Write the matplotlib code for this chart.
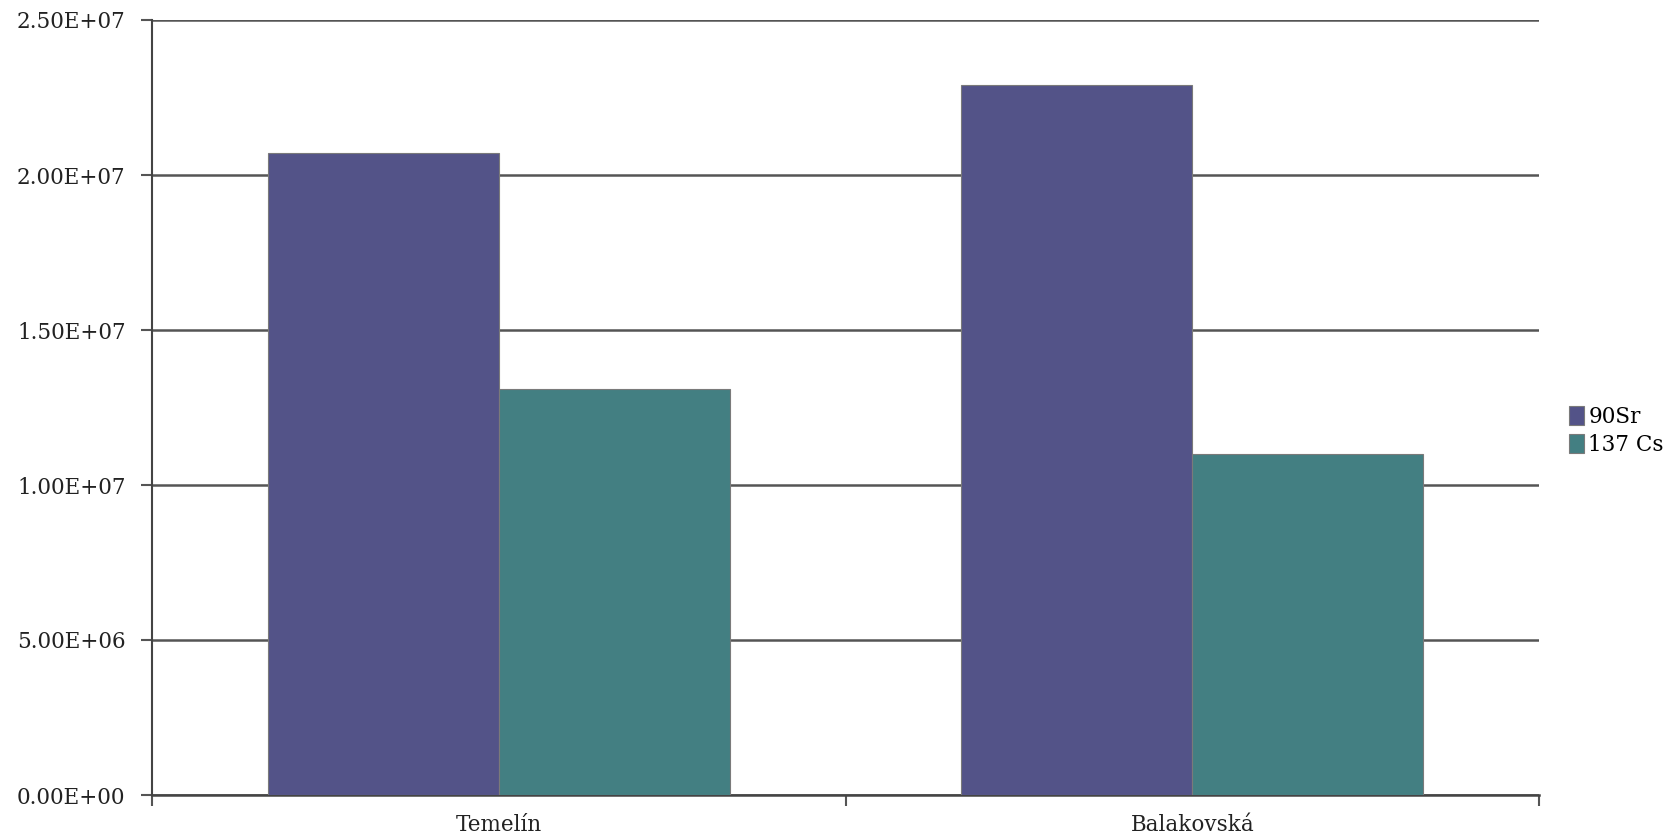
import matplotlib
matplotlib.use("Agg")
import matplotlib.pyplot as plt
import numpy as np

categories = ["Temelín", "Balakovská"]
series_names = ["90Sr", "137 Cs"]
sr90 = [2.07e7, 2.29e7]
cs137 = [1.31e7, 1.10e7]
yticks = [0, 5e6, 1e7, 1.5e7, 2e7, 2.5e7]
ytick_labels = ["0.00E+00", "5.00E+06", "1.00E+07", "1.50E+07", "2.00E+07", "2.50E+07"]

colors = ["#535388", "#437F82"]
FONT = ["DejaVu Serif"]
FS = 15.5

fig = plt.figure(figsize=(16.67, 8.36), dpi=100)
ax = fig.add_axes([152/1667, 1-795/836, (1539-152)/1667, (795-20)/836])

x = np.arange(len(categories))
w = 1/3
ax.bar(x - w/2, sr90, width=w, color=colors[0], edgecolor="#7a7a7a", linewidth=0.8, label=series_names[0], zorder=3)
ax.bar(x + w/2, cs137, width=w, color=colors[1], edgecolor="#7a7a7a", linewidth=0.8, label=series_names[1], zorder=3)

ax.set_xlim(-0.5, len(categories) - 0.5)
ax.set_ylim(0, 2.5e7)
ax.set_yticks(yticks)
ax.set_yticklabels(ytick_labels, fontsize=FS, family=FONT, color="#222222")
ax.yaxis.grid(True, color="#555555", linewidth=1.8, zorder=0)
ax.set_axisbelow(True)

ax.set_xticks(np.arange(-0.5, len(categories), 1.0))
ax.set_xticklabels([])
ax.set_xticks(x, minor=True)
ax.set_xticklabels(categories, minor=True, fontsize=FS, family=FONT, color="#222222")
ax.tick_params(axis="x", which="minor", length=0, pad=14)
ax.tick_params(axis="x", which="major", length=8, width=1.5, color="#555555", direction="out")
ax.tick_params(axis="y", length=8, width=1.5, color="#555555", direction="out", pad=11)

for s in ["top", "right"]:
    ax.spines[s].set_visible(False)
ax.spines["left"].set_color("#444444")
ax.spines["left"].set_linewidth(1.5)
ax.spines["bottom"].set_color("#444444")
ax.spines["bottom"].set_linewidth(1.8)

leg = fig.legend(loc="center left", bbox_to_anchor=(1569/1667, 1-431/836), frameon=False,
                 prop={"family": FONT, "size": FS}, handlelength=0.7, handleheight=1.0,
                 handletextpad=0.2, labelspacing=0.3, borderaxespad=0, borderpad=0)

fig.savefig("out.png", dpi=100)
